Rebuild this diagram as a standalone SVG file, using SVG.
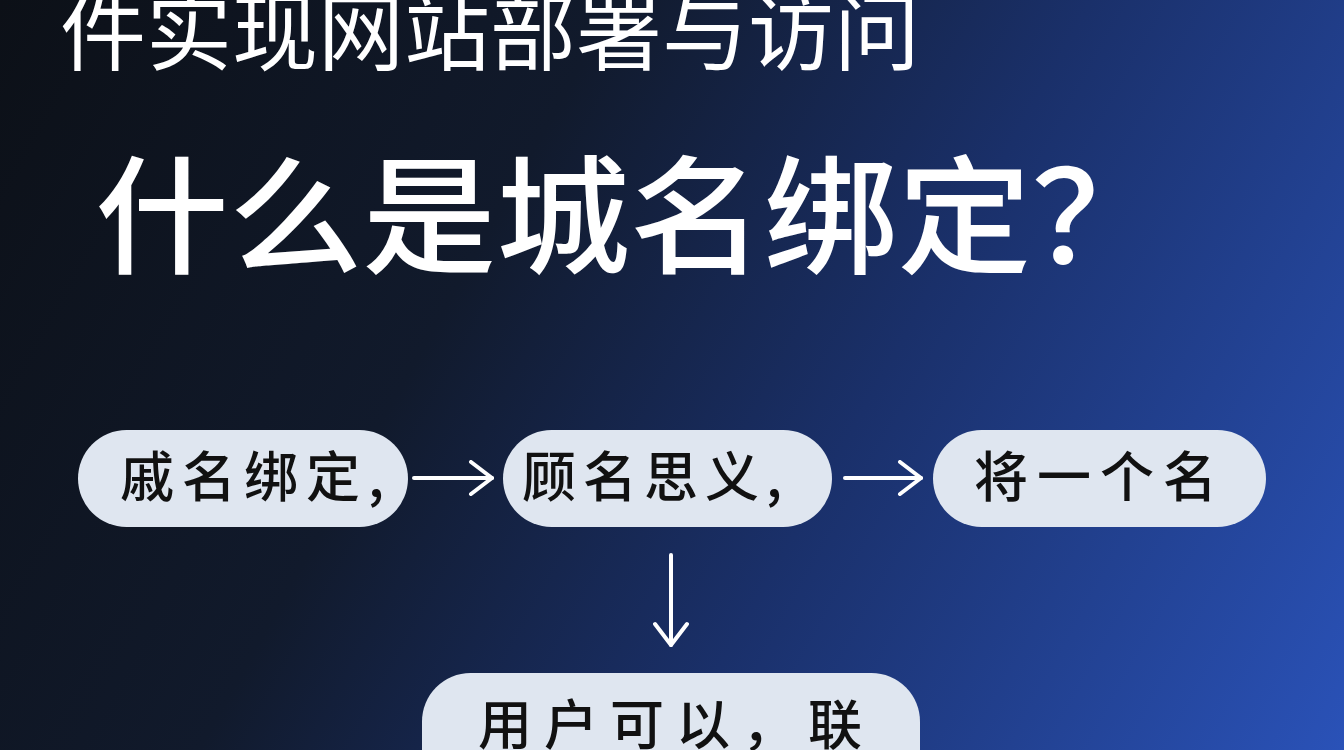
<svg xmlns="http://www.w3.org/2000/svg" width="1344" height="750" viewBox="0 0 1344 750">
<defs>
<linearGradient id="bg" x1="0" y1="0" x2="1344" y2="750" gradientUnits="userSpaceOnUse">
<stop offset="0" stop-color="#0c1017"/>
<stop offset="0.35" stop-color="#111a2c"/>
<stop offset="0.62" stop-color="#1a306a"/>
<stop offset="1" stop-color="#2a52b8"/>
</linearGradient>
<marker id="ah" viewBox="0 0 26 36" refX="24" refY="18" markerWidth="26" markerHeight="36" markerUnits="userSpaceOnUse" orient="auto">
<path d="M3,2 L24,18 L3,34" fill="none" stroke="#ffffff" stroke-width="4" stroke-linecap="round" stroke-linejoin="round"/>
</marker>
<style>
.pill{fill:#dfe6f0}
.nt{font-family:"Noto Sans CJK SC","Noto Sans CJK JP",sans-serif;font-size:54px;fill:#111111;font-weight:500}
.hd{font-family:"Noto Sans CJK SC","Noto Sans CJK JP",sans-serif;fill:#ffffff}
.cn{stroke:#ffffff;stroke-width:4;fill:none;stroke-linecap:round;marker-end:url(#ah)}
</style>
</defs>
<rect width="1344" height="750" fill="url(#bg)"/>
<text class="hd" x="60" y="64" font-size="86" font-weight="400">件实现网站部署与访问</text>
<text class="hd" x="95" y="264" font-size="128" font-weight="500" textLength="1070" lengthAdjust="spacingAndGlyphs">什么是城名绑定？</text>
<g id="connectors">
<line class="cn" x1="414" y1="478" x2="492" y2="478"/>
<line class="cn" x1="845" y1="478" x2="921" y2="478"/>
<line class="cn" x1="671" y1="555" x2="671" y2="645"/>
</g>
<g id="node1">
<rect class="pill" x="78" y="430" width="330" height="97" rx="48.5"/>
<text class="nt" x="120" y="497" letter-spacing="8">戚名绑定,</text>
</g>
<g id="node2">
<rect class="pill" x="503" y="430" width="329" height="97" rx="48.5"/>
<text class="nt" x="522" y="497" letter-spacing="7">顾名思义,</text>
</g>
<g id="node3">
<rect class="pill" x="933" y="430" width="333" height="97" rx="48.5"/>
<text class="nt" x="974" y="497" letter-spacing="9">将一个名</text>
</g>
<g id="node4">
<rect class="pill" x="422" y="673" width="498" height="140" rx="48.5"/>
<text class="nt" x="478" y="745" font-size="58" letter-spacing="12">用户可以，联</text>
</g>
</svg>
